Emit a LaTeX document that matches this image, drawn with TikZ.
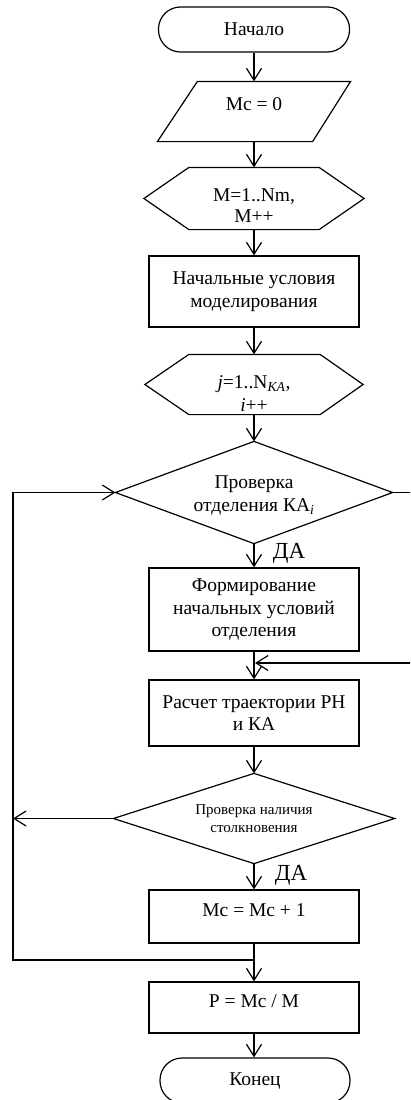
\documentclass[tikz,border=0pt]{standalone}
\usepackage{fontspec}
\setmainfont{Liberation Serif}
\usetikzlibrary{arrows.meta,calc}
\begin{document}
\begin{tikzpicture}[x=1pt,y=-1pt,line width=1.2pt,
  every node/.style={font=\fontsize{19.5}{22.5}\selectfont,align=center,inner sep=0pt},
  proc/.style={draw,minimum width=210pt},
  term/.style={draw,rounded corners=22pt,minimum width=191pt,minimum height=45pt},
  small/.style={font=\fontsize{15}{18}\selectfont},
  yes/.style={font=\fontsize{23}{26}\selectfont},
  arr/.style={-{Straight Barb[length=12pt,width=15pt]}}]
\useasboundingbox (0,0) rectangle (410,1100);
\clip (0,0) rectangle (410,1100);

\node[term] (start) at (254,29.5) {Начало};

\node[minimum width=192pt,minimum height=59pt,label={[yshift=7pt]center:Mc = 0}] (para) at (254,111.5) {};
\draw ($(para.north west)+(40,0)$) -- (para.north east) -- ($(para.south east)+(-38,0)$) -- (para.south west) -- cycle;

\node[minimum width=219pt,minimum height=61pt,label={[yshift=-7pt,font=\fontsize{19.5}{21}\selectfont]center:M=1..Nm,\\M++}] (hexa) at (254,198.5) {};
\draw (hexa.west) -- ($(hexa.north west)+(45,0)$) -- ($(hexa.north east)+(-45,0)$) -- (hexa.east) -- ($(hexa.south east)+(-45,0)$) -- ($(hexa.south west)+(45,0)$) -- cycle;

\node[proc,minimum height=71pt] (init) at (254,291.5) {Начальные условия\\моделирования};

\node[minimum width=217pt,minimum height=59pt,label={[yshift=-9pt,font=\fontsize{19.5}{23.5}\selectfont]center:\textit{j}=1..N\textsubscript{\textit{KA}},\\\textit{i}++}] (hexb) at (254,384.5) {};
\draw (hexb.west) -- ($(hexb.north west)+(44,0)$) -- ($(hexb.north east)+(-43,0)$) -- (hexb.east) -- ($(hexb.south east)+(-43,0)$) -- ($(hexb.south west)+(44,0)$) -- cycle;

\node[minimum width=276pt,minimum height=101pt,label={[yshift=-3pt]center:Проверка\\отделения КА\textsubscript{\textit{i}}}] (dsep) at (254,492.5) {};
\draw (dsep.west) -- (dsep.north) -- (dsep.east) -- (dsep.south) -- cycle;

\node[proc,minimum height=83pt] (form) at (254,609.5) {Формирование\\начальных условий\\отделения};

\node[proc,minimum height=66pt] (traj) at (254,713) {Расчет траектории РН\\и КА};

\node[minimum width=280pt,minimum height=89pt,label={[small]center:Проверка наличия\\столкновения}] (dcol) at (254,818.5) {};
\draw (dcol.west) -- (dcol.north) -- (dcol.east) -- (dcol.south) -- cycle;

\node[proc,minimum height=53pt,label={[yshift=6.5pt]center:Mc = Mc + 1}] (inc) at (254,916.5) {};

\node[proc,minimum height=51pt,label={[yshift=6.5pt]center:P = Mc / M}] (prob) at (254,1007.5) {};

\node[term,minimum width=190pt] (stop) at (255,1080.5) {\raisebox{-3pt}{Конец}};

\node[yes] (da1) at (289,553) {ДА};
\node[yes] (da2) at (291,875) {ДА};

\coordinate (j) at (254,960);
\coordinate (lb) at (13,960);
\coordinate (lt) at (13,492.5);
\coordinate (lm) at (13,818.5);
\coordinate (rt) at (414,492.5);
\coordinate (rb) at (414,663);
\coordinate (rj) at (255,663);

\draw[arr] (start.south) -- (start.south |- para.north);
\draw[arr] (para.south) -- (hexa.north);
\draw[arr] (hexa.south) -- (init.north);
\draw[arr] (init.south) -- (hexb.north);
\draw[arr] (hexb.south) -- (dsep.north);
\draw[arr] (dsep.south) -- (form.north);
\draw[arr] (form.south) -- (traj.north);
\draw[arr] (traj.south) -- (dcol.north);
\draw[arr] (dcol.south) -- (inc.north);
\draw (inc.south) -- (j);
\draw[arr] (j) -- (prob.north);
\draw[arr] (prob.south) -- (prob.south |- stop.north);

\draw[arr] (j) -- (lb) -- (lt) -- (dsep.west);
\draw[arr] (dcol.west) -- (lm);
\draw[arr] (dsep.east) -- (rt) -- (rb) -- (rj);
\end{tikzpicture}
\end{document}
